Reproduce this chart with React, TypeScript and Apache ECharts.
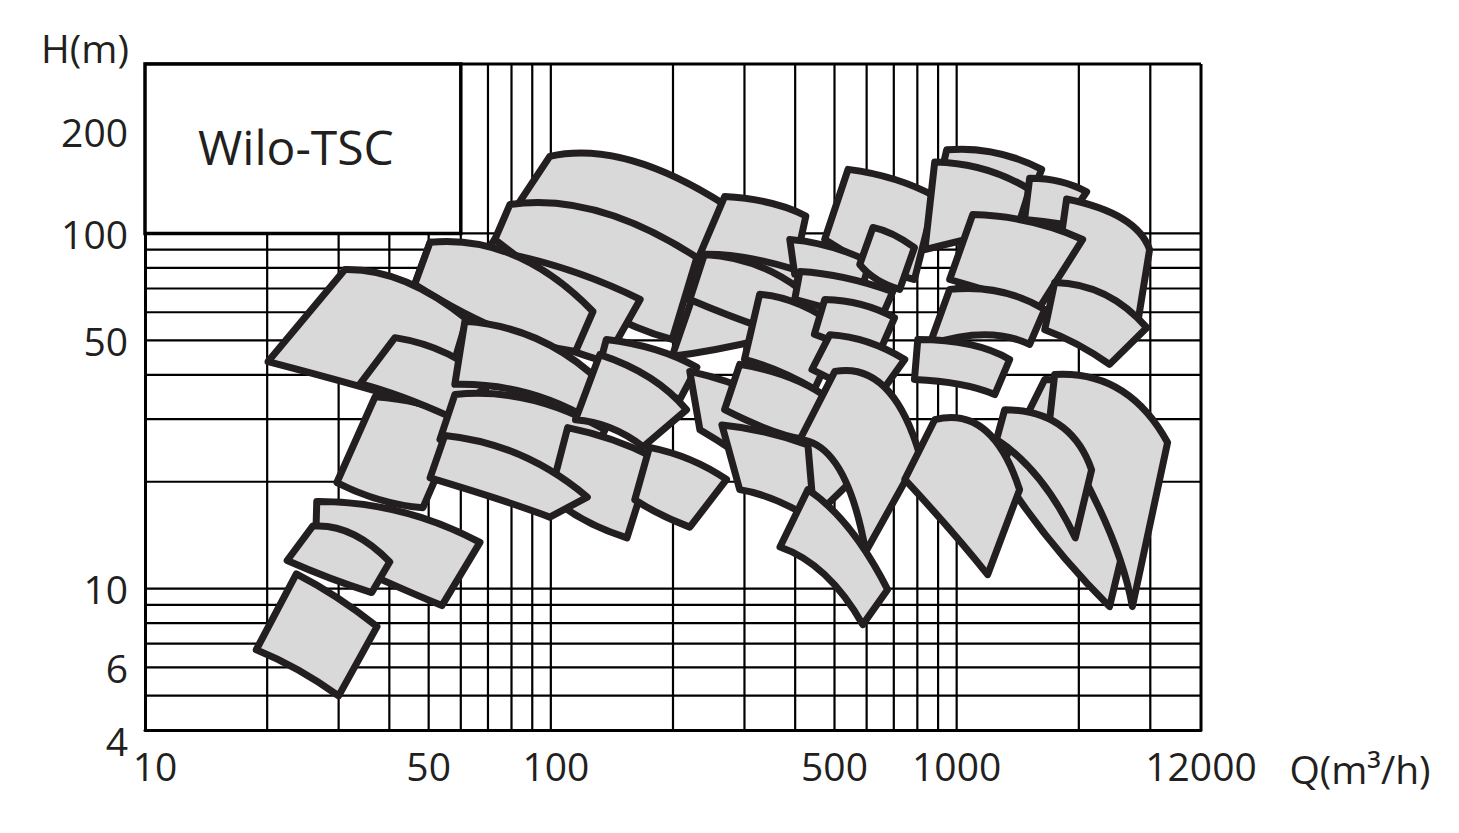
import React, { useEffect, useRef } from "react";
import * as echarts from "echarts";

// ---- axes / grid ----
const qMin = 10;
const qMax = 4000;
const hMin = 4;
const hMax = 300;
const xGridValues = [20, 30, 40, 50, 60, 70, 80, 90, 100, 200, 300, 400, 500, 600, 700, 800, 900, 1000, 2000, 3000];
const yGridValues = [5, 6, 7, 8, 9, 10, 20, 30, 40, 50, 60, 70, 80, 90, 100];
const xLabelValues = [10, 50, 100, 500, 1000, 4000];
const xLabelTexts = ["10", "50", "100", "500", "1000", "12000"];
const yLabelValues = [4, 6, 10, 50, 100, 200];
const yLabelTexts = ["4", "6", "10", "50", "100", "200"];
const boxQ = [10, 60];
const boxH = [100, 300];
const titleText = "Wilo-TSC";
const xName = "Q(m³/h)";
const yName = "H(m)";

// ---- pump ranges: [Q, H] points: top-left, top-mid, top-right, bottom-right, bottom-mid, bottom-left ----
const tiles: number[][][] = [
  // centre-left, back
  [[99.4, 164.8], [175, 154.5], [346, 98.1], [220, 48.7], [125, 69.6], [70.0, 90.1]],
  [[79.3, 120.7], [132, 115.3], [229, 85.6], [199, 50.3], [125, 63.1], [72.8, 96.2]],
  [[264, 115], [336, 106], [422, 87.3], [371, 51.9], [268, 47.7], [199, 45.1]],
  [[50.4, 94.4], [94.0, 83.4], [166, 65.2], [136, 43.6], [88.8, 51.9], [46.2, 71.9]],
  [[50.4, 94.4], [81.5, 86.7], [127, 60.3], [115, 46.5], [74.9, 53.6], [46.2, 71.9]],
  // left group
  [[36.9, 34.7], [47.6, 33.2], [60.4, 30.3], [48.4, 16.9], [37.9, 17.8], [29.7, 19.9]],
  [[31.1, 79.2], [43.7, 73.3], [62.1, 57.3], [53.3, 31.9], [33.9, 37.1], [20.1, 43.6]],
  [[41.3, 50.9], [55.5, 45.9], [70.8, 37.8], [56.4, 30.5], [43.2, 34.6], [33.9, 37.8]],
  [[26.5, 17.6], [42.5, 16.5], [66.9, 13.5], [53.9, 8.96], [39.0, 10.5], [26.3, 12.9]],
  [[25.9, 15.0], [32.3, 14.3], [40.1, 11.9], [36.2, 9.75], [28.6, 10.7], [22.4, 12.0]],
  [[23.6, 11.0], [29.7, 9.44], [37.3, 7.82], [30.0, 4.99], [23.8, 5.91], [18.8, 6.73]],
  // centre-left, front
  [[58.0, 35.2], [88.8, 34.1], [136, 28.0], [115, 19.0], [83.9, 21.6], [53.3, 26.3]],
  [[61.4, 56.6], [96.7, 49.3], [142, 35.2], [125, 29.9], [86.3, 35.7], [58.0, 37.6]],
  [[137, 50.3], [181, 47.1], [229, 42.0], [208, 34.1], [166, 37.6], [132, 42.8]],
  [[132, 45.6], [175, 39.3], [216, 31.9], [169, 25.1], [140, 28.4], [115, 29.9]],
  [[110, 28.4], [141, 26.3], [178, 23.5], [154, 13.9], [121, 15.6], [99.4, 18.2]],
  [[54.8, 27.0], [83.9, 23.8], [123, 18.1], [99.4, 15.9], [74.9, 17.8], [50.4, 20.5]],
  [[175, 25.0], [220, 23.1], [271, 20.3], [220, 14.9], [186, 16.2], [161, 17.8]],
  // centre
  [[220, 40.9], [367, 33.0], [604, 22.3], [446, 15.9], [327, 21.6], [233, 28.0]],
  [[268, 127], [346, 122], [425, 112], [398, 79.2], [300, 85.6], [233, 87.3]],
  [[239, 87.3], [318, 81.8], [411, 69.6], [377, 51.9], [292, 57.3], [220, 65.2]],
  [[327, 67.4], [411, 63.1], [522, 53.6], [446, 36.4], [367, 40.8], [300, 44.2]],
  [[540, 151.5], [703, 142], [886, 127], [787, 74.2], [611, 81.8], [473, 96.2]],
  [[388, 96.2], [487, 91.9], [611, 83.2], [583, 69.6], [487, 73.3], [399, 76.7]],
  [[622, 104], [696, 99.4], [787, 91.3], [724, 69.6], [636, 74.2], [577, 81.8]],
  [[411, 78.2], [530, 75.1], [696, 68.6], [646, 56.5], [515, 60.3], [399, 65.2]],
  [[473, 65.2], [583, 63.1], [703, 57.9], [646, 46.5], [530, 48.7], [446, 52.0]],
  [[487, 51.9], [604, 49.5], [745, 44.2], [646, 35.2], [530, 37.6], [440, 41.4]],
  [[292, 42.8], [388, 39.3], [487, 34.1], [423, 26.3], [346, 28.0], [268, 31.9]],
  [[264, 28.9], [337, 27.6], [430, 25.4], [446, 15.6], [356, 17.8], [292, 19.0]],
  [[501, 40.9], [665, 36.9], [811, 23.8], [597, 12.7], [515, 21.6], [411, 26.3]],
  [[430, 19.0], [545, 14.7], [676, 9.94], [587, 7.92], [473, 10.95], [367, 13.1]],
  // right
  [[945, 172], [1241, 169], [1620, 151.5], [1429, 106], [1108, 99.4], [834, 93.1]],
  [[883, 159], [1172, 151.5], [1513, 133], [1413, 104], [1108, 97.5], [835, 90.1]],
  [[1513, 143], [1793, 140], [2091, 131], [1845, 106], [1648, 108], [1470, 109.5]],
  [[1866, 125], [2562, 110], [2988, 90.1], [2776, 53.6], [2188, 65.2], [1744, 72.8]],
  [[1095, 113], [1513, 108], [2044, 96.2], [1601, 61.9], [1276, 67.4], [961, 74.2]],
  [[1744, 72.8], [2315, 67.4], [2940, 54.3], [2381, 42.8], [1986, 48.7], [1648, 53.6]],
  [[961, 69.6], [1276, 68.6], [1648, 61.1], [1513, 48.7], [1172, 51.9], [858, 48.7]],
  [[802, 50.3], [1077, 48.7], [1351, 44.2], [1241, 35.2], [1017, 37.6], [787, 38.8]],
  [[1648, 38.8], [2381, 35.2], [2988, 26.3], [2381, 8.9], [1695, 13.7], [1276, 21.6]],
  [[1744, 40.1], [2520, 36.4], [3309, 25.8], [2710, 8.9], [2315, 15.6], [1695, 29.9]],
  [[1313, 31.9], [1793, 28.9], [2150, 21.6], [1960, 13.9], [1601, 20.3], [1254, 26.3]],
  [[883, 29.9], [1172, 28.0], [1429, 19.0], [1192, 10.95], [961, 14.7], [745, 20.3]],
];

const lg = (v: number) => Math.log10(v);
const FONT = '"Open Sans", "DejaVu Sans", sans-serif';
const INK = "#231f20";
const LABEL_SIZE = 39;

function labelIndex(v: number, values: number[]) {
  let best = 0;
  let bd = Infinity;
  values.forEach((val, i) => {
    const d = Math.abs(lg(val) - v);
    if (d < bd) {
      bd = d;
      best = i;
    }
  });
  return best;
}

export default function App() {
  const ref = useRef<HTMLDivElement>(null);
  useEffect(() => {
    document.body.style.margin = "0";
    if (!ref.current) return;
    const chart = echarts.init(ref.current, undefined, { renderer: "svg" });
    const lab = { fontSize: LABEL_SIZE, fontFamily: FONT, color: INK };
    const option: any = {
      animation: false,
      backgroundColor: "#ffffff",
      grid: { left: 145, top: 64, right: 258, bottom: 103, containLabel: false },
      xAxis: {
        type: "value",
        min: lg(qMin),
        max: lg(qMax),
        axisLine: { show: true, lineStyle: { color: "#000", width: 3 } },
        axisTick: { show: false, customValues: xLabelValues.map(lg) },
        splitLine: { show: false },
        axisLabel: {
          customValues: xLabelValues.map(lg),
          formatter: (v: number) => {
            const i = labelIndex(v, xLabelValues);
            if (i === 0) return "{first|" + xLabelTexts[i] + "}";
            if (i === 2) return "{shift|" + xLabelTexts[i] + "}";
            return xLabelTexts[i];
          },
          ...lab,
          margin: 16,
          rich: {
            first: { ...lab, padding: [0, 0, 0, 20] },
            shift: { ...lab, padding: [0, 0, 0, 10] },
          },
        },
      },
      yAxis: {
        type: "value",
        min: lg(hMin),
        max: lg(hMax),
        axisLine: { show: true, lineStyle: { color: "#000", width: 3 } },
        axisTick: { show: false, customValues: yLabelValues.map(lg) },
        splitLine: { show: false },
        axisLabel: {
          customValues: yLabelValues.map(lg),
          formatter: (v: number) => {
            const i = labelIndex(v, yLabelValues);
            if (i === 0) return "{low|" + yLabelTexts[i] + "}";
            if (i === yLabelValues.length - 1) return "{down|" + yLabelTexts[i] + "}";
            return yLabelTexts[i];
          },
          ...lab,
          margin: 17,
          rich: {
            low: { ...lab, padding: [20, 0, 0, 0] },
            down: { ...lab, padding: [10, 0, 0, 0] },
          },
        },
      },
      graphic: [
        {
          type: "text",
          x: 85,
          y: 47,
          style: { text: yName, fontSize: LABEL_SIZE, fontFamily: FONT, fill: INK, align: "center", verticalAlign: "middle" },
        },
        {
          type: "text",
          x: 1360,
          y: 768,
          style: { text: xName, fontSize: LABEL_SIZE, fontFamily: FONT, fill: INK, align: "center", verticalAlign: "middle" },
        },
      ],
      series: [
        {
          type: "custom",
          name: "vgrid",
          silent: true,
          z: 1,
          data: xGridValues.map((q) => [lg(q), lg(hMin)]),
          renderItem: (params: any, api: any) => {
            const q = xGridValues[params.dataIndex];
            const a = api.coord([lg(q), lg(hMin)]);
            const b = api.coord([lg(q), lg(hMax)]);
            return { type: "line", shape: { x1: a[0], y1: a[1], x2: b[0], y2: b[1] }, style: { stroke: "#000", lineWidth: 2.2 } };
          },
        },
        {
          type: "custom",
          name: "hgrid",
          silent: true,
          z: 1,
          data: yGridValues.map((h) => [lg(qMin), lg(h)]),
          renderItem: (params: any, api: any) => {
            const h = yGridValues[params.dataIndex];
            const a = api.coord([lg(qMin), lg(h)]);
            const b = api.coord([lg(qMax), lg(h)]);
            return { type: "line", shape: { x1: a[0], y1: a[1], x2: b[0], y2: b[1] }, style: { stroke: "#000", lineWidth: 2.2 } };
          },
        },
        {
          type: "custom",
          name: "frame",
          silent: true,
          z: 2,
          data: [[lg(boxQ[0]), lg(boxH[0])]],
          renderItem: (params: any, api: any) => {
            const tl = api.coord([lg(qMin), lg(hMax)]);
            const tr = api.coord([lg(qMax), lg(hMax)]);
            const brc = api.coord([lg(qMax), lg(hMin)]);
            const b0 = api.coord([lg(boxQ[0]), lg(boxH[1])]);
            const b1 = api.coord([lg(boxQ[1]), lg(boxH[0])]);
            return {
              type: "group",
              children: [
                { type: "line", shape: { x1: tl[0], y1: tl[1], x2: tr[0], y2: tr[1] }, style: { stroke: "#000", lineWidth: 3 } },
                { type: "line", shape: { x1: tr[0], y1: tr[1], x2: brc[0], y2: brc[1] }, style: { stroke: "#000", lineWidth: 3 } },
                {
                  type: "rect",
                  shape: { x: b0[0], y: b0[1], width: b1[0] - b0[0], height: b1[1] - b0[1] },
                  style: { fill: "#fff", stroke: "#000", lineWidth: 3.5 },
                },
                {
                  type: "text",
                  x: (b0[0] + b1[0]) / 2 - 7,
                  y: (b0[1] + b1[1]) / 2 - 2,
                  style: { text: titleText, fontSize: 48, fontFamily: FONT, fill: INK, align: "center", verticalAlign: "middle" },
                },
              ],
            };
          },
        },
        {
          type: "custom",
          name: "ranges",
          silent: true,
          z: 3,
          clip: false,
          data: tiles.map((t) => [lg(t[0][0]), lg(t[0][1])]),
          renderItem: (params: any, api: any) => {
            const t = tiles[params.dataIndex];
            const p = t.map(([q, h]) => api.coord([lg(q), lg(h)]));
            const [tl, tm, tr, br, bm, bl] = p;
            const c1 = [2 * tm[0] - (tl[0] + tr[0]) / 2, 2 * tm[1] - (tl[1] + tr[1]) / 2];
            const c2 = [2 * bm[0] - (br[0] + bl[0]) / 2, 2 * bm[1] - (br[1] + bl[1]) / 2];
            const d =
              `M${tl[0]},${tl[1]} Q${c1[0]},${c1[1]} ${tr[0]},${tr[1]} ` +
              `L${br[0]},${br[1]} Q${c2[0]},${c2[1]} ${bl[0]},${bl[1]} Z`;
            return {
              type: "path",
              shape: { pathData: d },
              style: { fill: "#d9d9d9", stroke: INK, lineWidth: 7, lineJoin: "round" },
            };
          },
        },
      ],
    };
    chart.setOption(option);
    return () => chart.dispose();
  }, []);
  return <div ref={ref} style={{ width: 1459, height: 833 }} />;
}
